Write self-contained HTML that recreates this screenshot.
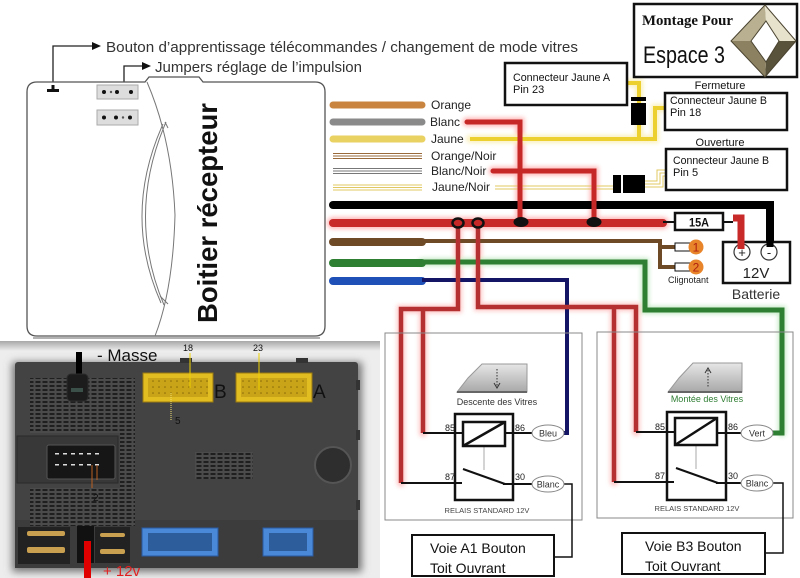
<!DOCTYPE html>
<html><head><meta charset="utf-8"><style>
html,body{margin:0;padding:0;background:#fff;}
svg{display:block;}
text{font-family:"Liberation Sans",sans-serif;}
</style></head><body>
<svg width="800" height="578" viewBox="0 0 800 578" xmlns="http://www.w3.org/2000/svg">
<defs>
 <pattern id="gr" width="7" height="4" patternUnits="userSpaceOnUse"><rect width="7" height="4" fill="#4b4b4b"/><rect x="0.5" y="1" width="5" height="2" fill="#1f1f1f"/></pattern>
 <pattern id="yp" width="6" height="6" patternUnits="userSpaceOnUse"><rect width="6" height="6" fill="#c9a418"/><circle cx="3" cy="3" r="0.8" fill="#8a6a08"/></pattern>
 <linearGradient id="topband" x1="0" y1="0" x2="0" y2="1"><stop offset="0" stop-color="#a8a8a8"/><stop offset="1" stop-color="#eeeeee"/></linearGradient>
 <linearGradient id="win" x1="0" y1="0" x2="0" y2="1"><stop offset="0" stop-color="#e6e6e6"/><stop offset="1" stop-color="#a8a8a8"/></linearGradient>
 <filter id="blur" x="-20%" y="-20%" width="140%" height="140%"><feGaussianBlur stdDeviation="2.2"/></filter>
 <filter id="sh" x="-10%" y="-10%" width="120%" height="120%"><feGaussianBlur stdDeviation="4"/></filter>
</defs>

<!-- top arrows / texts -->
<path d="M53,88 V46 H93" fill="none" stroke="#222" stroke-width="1.3"/>
<polygon points="92,42 101,46 92,50" fill="#111"/>
<text x="106" y="52" font-size="14.5" fill="#333" textLength="472" lengthAdjust="spacingAndGlyphs">Bouton d’apprentissage télécommandes / changement de mode vitres</text>
<path d="M124,82 V66 H143" fill="none" stroke="#222" stroke-width="1.3"/>
<polygon points="142,62 151,66 142,70" fill="#111"/>
<text x="155" y="72" font-size="14.5" fill="#333" textLength="207" lengthAdjust="spacingAndGlyphs">Jumpers réglage de l’impulsion</text>

<!-- receiver box -->
<path d="M37,82 H145 L149,77 H199 L203,82 H315 Q325,82 325,92 V326 Q325,336 315,336 H37 Q27,336 27,326 V92 Q27,82 37,82 Z" fill="#fff" stroke="#555" stroke-width="1.3"/>
<line x1="33" y1="338" x2="320" y2="338" stroke="#666" stroke-width="1"/>
<rect x="47" y="89" width="12" height="3" fill="#111"/><rect x="51.5" y="85" width="3" height="5" fill="#111"/>
<rect x="97" y="85" width="41" height="14" fill="#ddd" stroke="#aaa"/>
<circle cx="104" cy="92" r="2" fill="#111"/><circle cx="111" cy="92" r="1.2" fill="#555"/><circle cx="117" cy="92" r="2" fill="#111"/><circle cx="131" cy="92" r="2" fill="#111"/>
<rect x="97" y="110" width="41" height="15" fill="#ddd" stroke="#aaa"/>
<circle cx="104" cy="117.5" r="2" fill="#111"/><circle cx="116" cy="117.5" r="2" fill="#111"/><circle cx="123" cy="117.5" r="1.2" fill="#555"/><circle cx="130" cy="117.5" r="2" fill="#111"/>
<path d="M147,82 Q172,140 175,215 Q173,290 155,336" fill="none" stroke="#777" stroke-width="1"/>
<path d="M166,122 Q126,215 164,305" fill="none" stroke="#777" stroke-width="1"/>
<path d="M163,124 Q122,215 161,303" fill="none" stroke="#777" stroke-width="1"/>
<path d="M160,296 L168,304 M165,122 L168,128" fill="none" stroke="#777" stroke-width="1"/>
<text transform="translate(217,323) rotate(-90)" font-size="28" font-weight="bold" fill="#111" textLength="220" lengthAdjust="spacingAndGlyphs">Boitier récepteur</text>

<!-- legend wires -->
<g stroke-linecap="round" fill="none">
<line x1="333" y1="105" x2="422" y2="105" stroke="#c98540" stroke-width="7"/>
<line x1="333" y1="122" x2="422" y2="122" stroke="#8a8a8a" stroke-width="7"/>
<line x1="333" y1="139" x2="422" y2="139" stroke="#ead262" stroke-width="7"/>
</g>
<g stroke-width="1" fill="none">
<path d="M333,153.5 H422 M333,156 H422 M333,158.5 H422" stroke="#9a6a3a"/>
<path d="M333,168.5 H422 M333,171 H422 M333,173.5 H422" stroke="#777"/>
<path d="M333,185 H422 M333,187.5 H422 M333,190 H422" stroke="#e2c860"/>
</g>
<g font-size="12" fill="#222">
<text x="431" y="109">Orange</text>
<text x="430" y="126">Blanc</text>
<text x="431" y="143">Jaune</text>
<text x="431" y="160">Orange/Noir</text>
<text x="431" y="175">Blanc/Noir</text>
<text x="432" y="191">Jaune/Noir</text>
</g>

<!-- glow underlays -->
<g fill="none" stroke-linecap="round" filter="url(#blur)" opacity="0.45">
<path d="M333,223 H663" stroke="#ff6060" stroke-width="12"/>
<path d="M467,122 H520 V222 M493,171 H594 V222" stroke="#ff6060" stroke-width="9"/>
<path d="M458,223 V309 H401 V483 M423,309 V433 M478,223 V307 H636 V432 M614,307 V482" stroke="#ff8080" stroke-width="8"/>
<path d="M422,262 H645 V310 H782 V433" stroke="#80d080" stroke-width="8"/>
<path d="M470,139 H655 V108 H666 M627,83 H639 V139" stroke="#f5e070" stroke-width="8"/>
</g>

<!-- yellow wires -->
<g fill="none" stroke="#ecd030" stroke-width="4">
<path d="M470,139 H655 V108 H666"/>
<path d="M627,83 H639 V139"/>
</g>
<rect x="631" y="97" width="15" height="4" fill="#000"/>
<rect x="631" y="103" width="15" height="22" fill="#000"/>
<path d="M495,186 H613 M495,189 H613" stroke="#e2c860" stroke-width="1" fill="none"/>
<rect x="613" y="175" width="8" height="18" fill="#000"/>
<rect x="623" y="175" width="22" height="18" fill="#000"/>
<path d="M645,181 H657 V170 H667 M645,184 H660 V173 H667 M645,187 H663 V176 H667" stroke="#e2c860" stroke-width="1" fill="none"/>

<!-- main wires -->
<g fill="none" stroke-linecap="round">
<path d="M333,205 H770 V246" stroke="#000" stroke-width="8" stroke-linecap="butt"/>
<line x1="333" y1="205" x2="340" y2="205" stroke="#000" stroke-width="8"/>
<path d="M333,223 H663" stroke="#c82a2a" stroke-width="8"/>
<path d="M333,242 H422" stroke="#6e4a26" stroke-width="8"/>
<path d="M422,241 H660 V267 H676 M660,247 H676" stroke="#6e4a26" stroke-width="4" stroke-linecap="butt"/>
<path d="M333,263 H422" stroke="#2f7f33" stroke-width="8"/>
<path d="M422,262 H645 V310 H782 V433 H772" stroke="#2f7f33" stroke-width="5" stroke-linecap="butt"/>
<path d="M333,281 H422" stroke="#1f50b8" stroke-width="8"/>
<path d="M422,280 H567 V433 H564" stroke="#151565" stroke-width="4" stroke-linecap="butt"/>
<path d="M467,122 H520 V222" stroke="#c62828" stroke-width="5"/>
<path d="M493,171 H594 V222" stroke="#c62828" stroke-width="5"/>
<path d="M458,223 V309 H401 V483" stroke="#b53030" stroke-width="4.5" stroke-linecap="butt"/>
<path d="M423,309 V433" stroke="#b53030" stroke-width="4.5" stroke-linecap="butt"/>
<path d="M478,223 V307 H636 V432" stroke="#b53030" stroke-width="4.5" stroke-linecap="butt"/>
<path d="M614,307 V482" stroke="#b53030" stroke-width="4.5" stroke-linecap="butt"/>
</g>
<ellipse cx="521" cy="222" rx="7.5" ry="5" fill="#111"/>
<ellipse cx="594" cy="222" rx="7.5" ry="5" fill="#111"/>
<ellipse cx="458" cy="223" rx="5.5" ry="4.5" fill="#c62828" stroke="#111" stroke-width="2.5"/>
<ellipse cx="478" cy="223" rx="5.5" ry="4.5" fill="#c62828" stroke="#111" stroke-width="2.5"/>

<!-- fuse & battery -->
<path d="M663,222 H675 M723,222 H733" stroke="#111" stroke-width="2"/>
<rect x="675" y="213" width="48" height="17" fill="#fff" stroke="#111" stroke-width="2.5"/>
<text x="699" y="226.5" font-size="12" font-weight="bold" text-anchor="middle" fill="#111" textLength="20" lengthAdjust="spacingAndGlyphs">15A</text>
<rect x="723" y="242" width="67" height="41" fill="#fff" stroke="#111" stroke-width="2.5"/>
<circle cx="742" cy="252" r="8" fill="#fff" stroke="#333" stroke-width="1.2"/>
<circle cx="769" cy="252" r="8" fill="#fff" stroke="#333" stroke-width="1.2"/>
<path d="M733,218 H741 V249" fill="none" stroke="#c82a2a" stroke-width="7"/>
<path d="M770,230 V247" stroke="#000" stroke-width="7"/>
<text x="742" y="257" font-size="13" text-anchor="middle" fill="#222">+</text>
<text x="769" y="257" font-size="13" text-anchor="middle" fill="#222">-</text>
<text x="756" y="278" font-size="15" text-anchor="middle" fill="#222">12V</text>
<text x="756" y="299" font-size="14" text-anchor="middle" fill="#333">Batterie</text>

<!-- clignotant -->
<rect x="675" y="243" width="15" height="8" fill="#fff" stroke="#111" stroke-width="1"/>
<rect x="675" y="263" width="15" height="8" fill="#fff" stroke="#111" stroke-width="1"/>
<circle cx="696" cy="247" r="7.5" fill="#e8842a"/>
<circle cx="696" cy="267" r="7.5" fill="#e8842a"/>
<text x="696" y="251.5" font-size="12" text-anchor="middle" fill="#b02010">1</text>
<text x="696" y="271.5" font-size="12" text-anchor="middle" fill="#b02010">2</text>
<text x="668" y="283" font-size="9" fill="#222">Clignotant</text>

<!-- connector boxes -->
<rect x="505" y="63" width="122" height="42" fill="#fff" stroke="#111" stroke-width="2.5"/>
<text x="513" y="81" font-size="11" fill="#111" textLength="97" lengthAdjust="spacingAndGlyphs">Connecteur Jaune A</text>
<text x="513" y="93" font-size="11" fill="#111">Pin 23</text>
<text x="720" y="89" font-size="11" text-anchor="middle" fill="#111">Fermeture</text>
<rect x="665" y="93" width="122" height="37" fill="#fff" stroke="#111" stroke-width="2.5"/>
<text x="670" y="104" font-size="11" fill="#111" textLength="97" lengthAdjust="spacingAndGlyphs">Connecteur Jaune B</text>
<text x="670" y="116" font-size="11" fill="#111">Pin 18</text>
<text x="720" y="146" font-size="11" text-anchor="middle" fill="#111">Ouverture</text>
<rect x="666" y="149" width="121" height="41" fill="#fff" stroke="#111" stroke-width="2.5"/>
<text x="673" y="164" font-size="11" fill="#111" textLength="96" lengthAdjust="spacingAndGlyphs">Connecteur Jaune B</text>
<text x="673" y="176" font-size="11" fill="#111">Pin 5</text>

<!-- logo box -->
<rect x="634" y="4" width="163" height="73" fill="#fff" stroke="#111" stroke-width="2.5"/>
<text x="642" y="25" style="font-family:'Liberation Serif',serif;font-weight:bold" font-size="14.5" fill="#111" textLength="91" lengthAdjust="spacingAndGlyphs">Montage Pour</text>
<text x="643" y="63" font-size="24" fill="#111" textLength="82" lengthAdjust="spacingAndGlyphs">Espace 3</text>
<polygon points="731,41 765,5 766,21 751,41" fill="#b8b090"/>
<polygon points="765,5 796,41 779,41 766,21" fill="#e6e2cc"/>
<polygon points="796,41 765,77 766,62 779,41" fill="#5a533b"/>
<polygon points="765,77 731,41 751,41 766,62" fill="#8c8262"/>
<polygon points="731,41 765,5 796,41 765,77" fill="none" stroke="#4a4330" stroke-width="1"/>
<polygon points="751,41 766,21 779,41 766,62" fill="#fff" stroke="#4a4330" stroke-width="1"/>

<!-- relay boxes -->
<rect x="385" y="333" width="197" height="187" fill="none" stroke="#888" stroke-width="1"/>
<rect x="597" y="332" width="196" height="186" fill="none" stroke="#888" stroke-width="1"/>

<!-- left relay -->
<polygon points="457,392 468,378 482,364 527,364 527,392" fill="url(#win)" stroke="#999" stroke-width="1"/>
<line x1="457" y1="392" x2="527" y2="392" stroke="#666" stroke-width="2"/>
<line x1="497" y1="369" x2="497" y2="386" stroke="#333" stroke-width="1" stroke-dasharray="1.5,1.5"/>
<path d="M494,383 L497,388 L500,383" fill="none" stroke="#333" stroke-width="1"/>
<text x="497" y="405" font-size="9" text-anchor="middle" fill="#333">Descente des Vitres</text>
<rect x="455" y="414" width="58" height="86" fill="#fff" stroke="#111" stroke-width="2.5"/>
<line x1="484" y1="446" x2="484" y2="470" stroke="#aaa" stroke-width="1"/>
<rect x="463" y="422" width="42" height="24" fill="#fff" stroke="#111" stroke-width="2.5"/>
<line x1="463" y1="446" x2="505" y2="422" stroke="#111" stroke-width="2.5"/>
<g stroke="#111" stroke-width="2" fill="none">
<path d="M423,433 H463 M505,433 H532 M401,483 H462 M503,484 H532"/>
<path d="M463,469 L505,484"/>
<path d="M564,484 H572 V557 H554" stroke-width="1.5"/>
</g>
<text x="445" y="431" font-size="9" fill="#222">85</text>
<text x="515" y="431" font-size="9" fill="#222">86</text>
<text x="445" y="480" font-size="9" fill="#222">87</text>
<text x="515" y="480" font-size="9" fill="#222">30</text>
<ellipse cx="548" cy="433" rx="16" ry="8" fill="#fff" stroke="#888"/>
<text x="548" y="436.5" font-size="9" text-anchor="middle" fill="#333">Bleu</text>
<ellipse cx="548" cy="484" rx="16" ry="8" fill="#fff" stroke="#888"/>
<text x="548" y="487.5" font-size="9" text-anchor="middle" fill="#333">Blanc</text>
<text x="487" y="513" font-size="7.5" text-anchor="middle" fill="#444">RELAIS STANDARD 12V</text>
<rect x="412" y="535" width="142" height="41" fill="#fff" stroke="#111" stroke-width="2"/>
<text x="430" y="553" font-size="14" fill="#111">Voie A1 Bouton</text>
<text x="430" y="573" font-size="14" fill="#111">Toit Ouvrant</text>

<!-- right relay -->
<polygon points="668,392 679,378 693,363 742,363 742,392" fill="url(#win)" stroke="#999" stroke-width="1"/>
<line x1="668" y1="392" x2="742" y2="392" stroke="#666" stroke-width="2"/>
<line x1="708" y1="370" x2="708" y2="388" stroke="#333" stroke-width="1" stroke-dasharray="1.5,1.5"/>
<path d="M705,373 L708,368 L711,373" fill="none" stroke="#333" stroke-width="1"/>
<text x="707" y="402" font-size="9" text-anchor="middle" fill="#2e7d32">Montée des Vitres</text>
<rect x="667" y="412" width="59" height="88" fill="#fff" stroke="#111" stroke-width="2.5"/>
<line x1="696" y1="445" x2="696" y2="469" stroke="#aaa" stroke-width="1"/>
<rect x="675" y="418" width="42" height="27" fill="#fff" stroke="#111" stroke-width="2.5"/>
<line x1="675" y1="445" x2="717" y2="418" stroke="#111" stroke-width="2.5"/>
<g stroke="#111" stroke-width="2" fill="none">
<path d="M636,432 H675 M717,433 H741 M614,482 H674 M716,483 H741"/>
<path d="M676,468 L718,483"/>
<path d="M773,483 H783 V553 H765" stroke-width="1.5"/>
</g>
<text x="655" y="430" font-size="9" fill="#222">85</text>
<text x="728" y="430" font-size="9" fill="#222">86</text>
<text x="655" y="479" font-size="9" fill="#222">87</text>
<text x="728" y="479" font-size="9" fill="#222">30</text>
<ellipse cx="757" cy="433" rx="16" ry="8" fill="#fff" stroke="#888"/>
<text x="757" y="436.5" font-size="9" text-anchor="middle" fill="#333">Vert</text>
<ellipse cx="757" cy="483" rx="16" ry="8" fill="#fff" stroke="#888"/>
<text x="757" y="486.5" font-size="9" text-anchor="middle" fill="#333">Blanc</text>
<text x="697" y="511" font-size="7.5" text-anchor="middle" fill="#444">RELAIS STANDARD 12V</text>
<rect x="622" y="533" width="143" height="41" fill="#fff" stroke="#111" stroke-width="2"/>
<text x="645" y="551" font-size="14" fill="#111">Voie B3 Bouton</text>
<text x="645" y="571" font-size="14" fill="#111">Toit Ouvrant</text>

<!-- photo -->
<rect x="0" y="341" width="380" height="237" fill="#ededed"/>
<rect x="0" y="341" width="380" height="10" fill="url(#topband)"/>
<rect x="12" y="362" width="350" height="210" fill="#777" filter="url(#sh)"/>
<rect x="15" y="362" width="343" height="206" rx="3" fill="#434343"/>
<rect x="15" y="520" width="343" height="48" fill="#3c3c3c"/>
<rect x="180" y="358" width="12" height="5" fill="#333"/><rect x="296" y="358" width="12" height="5" fill="#333"/>
<rect x="356" y="380" width="4" height="10" fill="#333"/><rect x="356" y="430" width="4" height="10" fill="#333"/><rect x="356" y="500" width="4" height="10" fill="#333"/>
<rect x="30" y="378" width="92" height="55" fill="url(#gr)"/>
<rect x="120" y="378" width="15" height="148" fill="url(#gr)"/>
<rect x="30" y="488" width="92" height="38" fill="url(#gr)"/>
<rect x="195" y="452" width="58" height="27" fill="url(#gr)"/>
<rect x="17" y="436" width="101" height="47" fill="#383838" stroke="#2a2a2a"/>
<rect x="47" y="445" width="68" height="34" rx="2" fill="#161616" stroke="#555"/>
<g fill="#ddd">
<rect x="55" y="453" width="4" height="1.5"/><rect x="63" y="453" width="4" height="1.5"/><rect x="71" y="453" width="4" height="1.5"/><rect x="79" y="453" width="4" height="1.5"/><rect x="87" y="453" width="4" height="1.5"/><rect x="95" y="453" width="4" height="1.5"/>
<rect x="55" y="464" width="4" height="1.5"/><rect x="63" y="464" width="4" height="1.5"/><rect x="71" y="464" width="4" height="1.5"/><rect x="79" y="464" width="4" height="1.5"/><rect x="87" y="464" width="4" height="1.5"/><rect x="95" y="464" width="4" height="1.5"/>
</g>
<path d="M92,465 V488 M97,465 V480" stroke="#b86020" stroke-width="1"/>
<text x="93" y="501" font-size="10" fill="#111">2</text>
<!-- masse -->
<rect x="76" y="352" width="6" height="30" fill="#000"/>
<rect x="67" y="374" width="21" height="27" rx="4" fill="#1c1c1c" stroke="#2c2c2c"/>
<rect x="71" y="388" width="12" height="4" fill="#3a5048"/>
<text x="97" y="361" font-size="17" fill="#111">- Masse</text>
<!-- yellow connectors -->
<rect x="143" y="373" width="70" height="29" fill="#e2bd22" stroke="#9a7a10"/>
<rect x="148" y="378" width="60" height="19" fill="url(#yp)"/>
<rect x="236" y="373" width="76" height="29" fill="#e2bd22" stroke="#9a7a10"/>
<rect x="241" y="378" width="66" height="19" fill="url(#yp)"/>
<text x="214" y="398" font-size="19" fill="#111">B</text>
<text x="313" y="398" font-size="19" fill="#111">A</text>
<text x="183" y="351" font-size="9" fill="#111">18</text>
<text x="253" y="351" font-size="9" fill="#111">23</text>
<line x1="190" y1="353" x2="190" y2="388" stroke="#f0d000" stroke-width="1"/>
<line x1="259" y1="353" x2="259" y2="390" stroke="#f0d000" stroke-width="1"/>
<line x1="171" y1="393" x2="171" y2="421" stroke="#f0e070" stroke-width="1" stroke-dasharray="1,1"/>
<text x="175" y="424" font-size="10" fill="#111">5</text>
<!-- knob -->
<circle cx="333" cy="465" r="18" fill="#2e2e2e" stroke="#555" stroke-width="2"/>
<!-- bottom -->
<rect x="18" y="527" width="52" height="37" fill="#222"/>
<rect x="27" y="531" width="38" height="5" rx="2" fill="#c9a050"/>
<rect x="27" y="547" width="38" height="6" rx="2" fill="#c9a050"/>
<rect x="77" y="526" width="17" height="37" fill="#111"/>
<rect x="95" y="527" width="35" height="36" fill="#222"/>
<rect x="100" y="533" width="25" height="4" rx="2" fill="#c9a050"/>
<rect x="100" y="549" width="25" height="5" rx="2" fill="#c9a050"/>
<rect x="84" y="541" width="7" height="37" fill="#e00000"/>
<text x="103" y="576" font-size="15" fill="#e02020">+ 12v</text>
<rect x="142" y="528" width="76" height="28" fill="#4a88d8" stroke="#2a5aa0"/>
<rect x="148" y="533" width="64" height="18" fill="#2d5d9a"/>
<rect x="263" y="528" width="50" height="28" fill="#4a88d8" stroke="#2a5aa0"/>
<rect x="269" y="533" width="38" height="18" fill="#2d5d9a"/>
</svg>
</body></html>
